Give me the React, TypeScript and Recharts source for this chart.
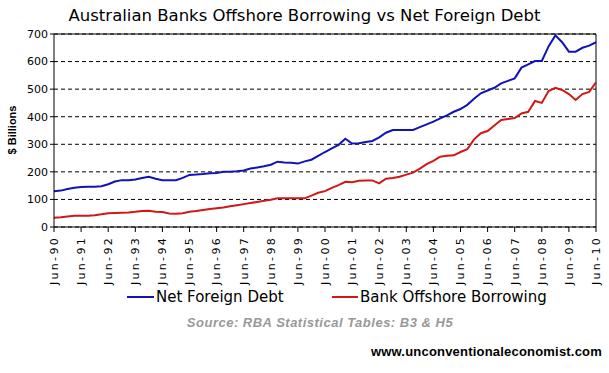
import React from "react";
import { LineChart, Line, XAxis, YAxis, CartesianGrid, ReferenceLine } from "recharts";

const quarters: number[] = Array.from({ length: 81 }, (_, i) => i);

const yearLabels: string[] = [
  "Jun-90", "Jun-91", "Jun-92", "Jun-93", "Jun-94", "Jun-95", "Jun-96",
  "Jun-97", "Jun-98", "Jun-99", "Jun-00", "Jun-01", "Jun-02", "Jun-03",
  "Jun-04", "Jun-05", "Jun-06", "Jun-07", "Jun-08", "Jun-09", "Jun-10",
];

const netForeignDebt: number[] = [
  130, 132, 138, 142, 145, 146, 146, 148, 155, 165, 170, 170, 172, 178, 182, 175,
  170, 170, 170, 178, 189, 190, 192, 195, 196, 200, 200, 202, 205, 212, 216, 220,
  226, 237, 234, 233, 230, 238, 244, 258, 272, 285, 298, 320, 303, 304, 308, 312,
  325, 342, 352, 352, 352, 352, 362, 372, 382, 394, 405, 418, 428, 443, 465, 485,
  495, 505, 521, 530, 539, 578, 590, 602, 602, 655, 695, 670, 636, 636, 650, 658,
  670,
];

const bankOffshore: number[] = [
  34, 35, 38, 41, 41, 41, 43, 46, 50, 51, 52, 53, 55, 58, 59, 55,
  54, 49, 48, 50, 55, 58, 62, 65, 68, 71, 75, 79, 83, 87, 91, 95,
  99, 104, 104, 104, 104, 104, 114, 124, 130, 142, 152, 164, 162, 168, 169, 169,
  158, 175, 178, 182, 190, 197, 212, 228, 240, 255, 258, 260, 272, 282, 318, 340,
  348, 368, 388, 392, 395, 412, 418, 457, 450, 493, 505, 497, 482, 461, 482, 490,
  525,
];

const yTicks: number[] = [0, 100, 200, 300, 400, 500, 600, 700];

const data = quarters.map((q, i) => ({
  q,
  nfd: netForeignDebt[i],
  bob: bankOffshore[i],
}));

const xTicks = yearLabels.map((_, i) => i * 4);

const BLUE = "#1212B8";
const RED = "#D01818";
const FONT = "Tahoma, 'DejaVu Sans', sans-serif";
const ARIAL = "Arial, 'Liberation Sans', sans-serif";

const XTick = (props: any) => {
  const { x, y, payload } = props;
  const label = yearLabels[Math.round(payload.value / 4)];
  return (
    <g transform={`translate(${x},${y + 2})`}>
      <text
        transform="rotate(-90)"
        textAnchor="end"
        dy="0.35em"
        fontSize={11}
        fontFamily={FONT}
        fill="#000"
        letterSpacing={2.3}
      >
        {label}
      </text>
    </g>
  );
};

export default function App() {
  return (
    <div style={{ position: "absolute", left: 0, top: 0, width: 609, height: 373, background: "#fff" }}>
      <LineChart
        width={609}
        height={373}
        data={data}
        margin={{ top: 34, right: 13, left: 0, bottom: 86 }}
      >
        <CartesianGrid vertical={false} stroke="#000" strokeDasharray="4 3" />
        <XAxis
          dataKey="q"
          type="number"
          domain={[0, 80]}
          ticks={xTicks}
          interval={0}
          height={60}
          tick={<XTick />}
          tickSize={5}
          stroke="#000"
          axisLine={{ stroke: "#000" }}
          tickLine={{ stroke: "#000" }}
        />
        <YAxis
          domain={[0, 700]}
          ticks={yTicks}
          width={54}
          tickSize={4}
          interval={0}
          stroke="#000"
          tick={{ fontSize: 11, fontFamily: FONT, fill: "#000" }}
        />
        <ReferenceLine y={700} stroke="#000" strokeWidth={1} />
        <ReferenceLine x={80} stroke="#000" strokeWidth={1} />
        <Line
          type="linear"
          dataKey="nfd"
          stroke={BLUE}
          strokeWidth={2}
          dot={false}
          isAnimationActive={false}
        />
        <Line
          type="linear"
          dataKey="bob"
          stroke={RED}
          strokeWidth={2}
          dot={false}
          isAnimationActive={false}
        />
      </LineChart>

      <div
        style={{
          position: "absolute", left: 0, top: 6, width: 609, textAlign: "center",
          fontFamily: FONT, fontSize: 16.5, color: "#000", lineHeight: "20px",
        }}
      >
        Australian Banks Offshore Borrowing vs Net Foreign Debt
      </div>

      <div
        style={{
          position: "absolute", left: 12 - 60, top: 130 - 8, width: 120, height: 16,
          transform: "rotate(-90deg)", textAlign: "center",
          fontFamily: ARIAL, fontWeight: "bold",
          fontSize: 11, color: "#000", lineHeight: "16px",
        }}
      >
        $ Billions
      </div>

      <div style={{ position: "absolute", left: 127, top: 287, height: 20, display: "flex", alignItems: "center", fontFamily: FONT, fontSize: 15, color: "#000", whiteSpace: "nowrap" }}>
        <span style={{ display: "inline-block", width: 27, height: 2, background: BLUE, marginRight: 2 }} />
        <span>Net Foreign Debt</span>
      </div>
      <div style={{ position: "absolute", left: 332, top: 287, height: 20, display: "flex", alignItems: "center", fontFamily: FONT, fontSize: 15, color: "#000", whiteSpace: "nowrap" }}>
        <span style={{ display: "inline-block", width: 26, height: 2, background: RED, marginRight: 2 }} />
        <span>Bank Offshore Borrowing</span>
      </div>

      <div
        style={{
          position: "absolute", left: 180, top: 315, width: 280, textAlign: "center",
          fontFamily: ARIAL, fontWeight: "bold", letterSpacing: 0.5,
          fontStyle: "italic", fontSize: 13, color: "#999", lineHeight: "16px", whiteSpace: "nowrap",
        }}
      >
        Source: RBA Statistical Tables: B3 &amp; H5
      </div>

      <div
        style={{
          position: "absolute", right: 7, top: 344, textAlign: "right",
          fontFamily: ARIAL, fontWeight: "bold", letterSpacing: 0.2,
          fontSize: 13, color: "#000", lineHeight: "16px", whiteSpace: "nowrap",
        }}
      >
        www.unconventionaleconomist.com
      </div>
    </div>
  );
}
